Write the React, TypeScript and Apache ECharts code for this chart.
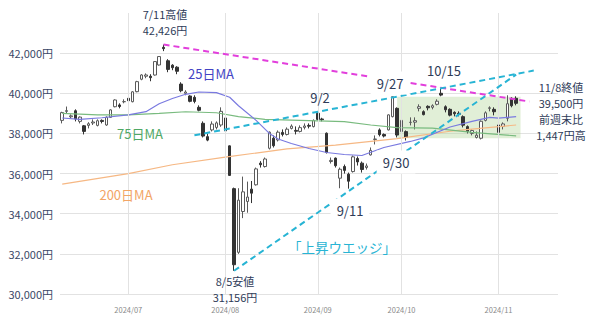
import React, { useEffect, useRef } from 'react';
import * as echarts from 'echarts';

// Trading days (Nikkei 225), June 10 – November 8, 2024
const tradingDays = [
  '2024-06-10','2024-06-11','2024-06-12','2024-06-13','2024-06-14','2024-06-17','2024-06-18','2024-06-19','2024-06-20','2024-06-21','2024-06-24','2024-06-25','2024-06-26','2024-06-27','2024-06-28',
  '2024-07-01','2024-07-02','2024-07-03','2024-07-04','2024-07-05','2024-07-08','2024-07-09','2024-07-10','2024-07-11','2024-07-12','2024-07-16','2024-07-17','2024-07-18','2024-07-19','2024-07-22','2024-07-23','2024-07-24','2024-07-25','2024-07-26','2024-07-29','2024-07-30','2024-07-31',
  '2024-08-01','2024-08-02','2024-08-05','2024-08-06','2024-08-07','2024-08-08','2024-08-09','2024-08-13','2024-08-14','2024-08-15','2024-08-16','2024-08-19','2024-08-20','2024-08-21','2024-08-22','2024-08-23','2024-08-26','2024-08-27','2024-08-28','2024-08-29','2024-08-30',
  '2024-09-02','2024-09-03','2024-09-04','2024-09-05','2024-09-06','2024-09-09','2024-09-10','2024-09-11','2024-09-12','2024-09-13','2024-09-17','2024-09-18','2024-09-19','2024-09-20','2024-09-24','2024-09-25','2024-09-26','2024-09-27','2024-09-30',
  '2024-10-01','2024-10-02','2024-10-03','2024-10-04','2024-10-07','2024-10-08','2024-10-09','2024-10-10','2024-10-11','2024-10-15','2024-10-16','2024-10-17','2024-10-18','2024-10-21','2024-10-22','2024-10-23','2024-10-24','2024-10-25','2024-10-28','2024-10-29','2024-10-30','2024-10-31',
  '2024-11-01','2024-11-05','2024-11-06','2024-11-07','2024-11-08'
];
// Empty future days that extend the axis to the right
const futureDays = ['2024-11-11','2024-11-12','2024-11-13','2024-11-14','2024-11-15','2024-11-18','2024-11-19','2024-11-20','2024-11-21'];

const opens = [
  38650,39100,38830,39130,38600,38380,38400,38520,38400,38650,38420,38800,39330,39420,39580,
  39750,39580,40080,40700,40850,40850,40910,41410,42290,41620,41400,41300,40460,40000,39865,39800,39300,38505,37840,38175,38300,38420,
  38770,37380,35249,32077,34110,34610,35225,35440,36520,36350,37260,37760,37675,38050,37950,38250,38150,38100,38300,38400,38340,
  39005,38720,38010,36600,36770,35770,36350,35970,36100,36750,36520,36300,36930,37700,38175,37950,38175,38835,39250,
  38090,38090,38550,38560,39250,39085,39350,39300,39450,40000,39330,39200,39050,39000,38835,38340,38000,37800,37760,38650,39250,39200,
  38420,38350,38755,39750,39750
];
const closes = [
  39038,39134,38876,38720,38814,38102,38482,38570,38633,38596,38804,39173,39667,39341,39583,
  39631,40074,40580,40913,40912,40780,41580,41831,42224,41190,41275,41097,40126,40063,39599,39594,39154,37869,37667,38468,38525,39101,
  38126,35909,31458,34675,35089,34831,35025,36232,36442,36726,38062,37388,38062,37951,38211,38364,38110,38288,38371,38362,38647,
  38700,38686,37047,36657,36391,36215,36159,35619,36833,36581,36203,36380,37155,37723,37940,37870,38925,39829,37919,
  38651,37808,38552,38635,39332,38937,39277,39380,39605,39910,39180,38911,38981,38954,38411,38104,38143,37913,38605,39027,39277,39081,
  38053,38474,39480,39381,39500
];
const lows = [
  38500,38980,38750,38600,38500,37950,38250,38420,38350,38500,38380,38780,39300,39250,39500,
  39450,39550,40050,40650,40750,40600,40880,41380,42100,41050,41150,40950,40050,39900,39550,39500,39100,37800,37611,38100,38200,38330,
  37760,35880,31156,32000,33780,34050,34530,35400,36300,36300,37200,37300,37600,37850,37900,38200,37950,38050,38200,38250,38300,
  38650,38600,37000,36500,36300,35270,36000,35247,36050,36400,36050,36200,36900,37450,37850,37800,38150,38800,37800,
  37950,37650,38400,38200,39100,38900,39150,39200,39400,39850,39050,38850,38850,38850,38300,38000,37900,37750,37700,38600,39100,38900,
  37900,38200,38600,39300,39400
];
const highs = [
  39080,39340,38950,39200,38850,38420,38560,38700,38700,38700,38850,39200,39700,39500,39700,
  39800,40100,40620,40950,40990,40950,41600,41850,42426,41700,41450,41350,40550,40150,39900,39900,39400,38600,37990,38600,38600,39300,
  38900,37400,35301,35270,35849,35600,35630,36300,36620,36800,38100,37900,38150,38200,38300,38450,38350,38400,38500,38500,38700,
  39070,38780,38050,36800,36800,36300,36450,36050,36900,36850,36600,36500,37300,37900,38250,38000,38950,39830,39300,
  38700,38150,38800,38800,39450,39150,39400,39450,39700,40257,39400,39250,39100,39100,38900,38400,38200,38100,38650,39100,39350,39300,
  38500,38550,39900,39800,39850
];

// Moving averages at these dates
const ma25Dates = ['2024-06-10','2024-06-14','2024-06-21','2024-07-01','2024-07-05','2024-07-10','2024-07-16','2024-07-19','2024-07-24','2024-07-30','2024-08-02','2024-08-06','2024-08-13','2024-08-16','2024-08-20','2024-08-23','2024-08-29','2024-09-04','2024-09-10','2024-09-17','2024-09-25','2024-10-03','2024-10-08','2024-10-17','2024-10-24','2024-10-30','2024-11-01','2024-11-08'];
const ma25Values = [38770,38700,38780,38920,39085,39480,39740,39950,40065,40030,39800,39380,38650,38000,37720,37500,37250,37050,36950,36900,37300,37600,37780,38320,38600,38800,38760,38840];

const ma75Dates = ['2024-06-10','2024-06-20','2024-07-01','2024-07-10','2024-07-19','2024-07-30','2024-08-06','2024-08-15','2024-08-29','2024-09-10','2024-09-19','2024-09-30','2024-10-10','2024-10-24','2024-11-08'];
const ma75Values = [39000,38920,38920,39000,39080,39030,38840,38700,38640,38590,38420,38290,38260,38050,37876];

const ma200Dates = ['2024-06-10','2024-07-01','2024-07-16','2024-08-01','2024-08-22','2024-09-06','2024-09-30','2024-10-17','2024-11-08'];
const ma200Values = [35470,36000,36440,36820,37230,37420,37740,38110,38420];

// Trend lines: [startDate, startPrice, endDate, endPrice]
const resistanceLine: [string, number, string, number] = ['2024-07-11', 42426, '2024-11-13', 39590];
const wedgeUpper: [string, number, string, number] = ['2024-07-23', 37905, '2024-11-14', 41130];
const wedgeLower: [string, number, string, number] = ['2024-08-05', 31156, '2024-11-08', 40930];

// Range box (green)
const rangeBox: [string, number, string, number] = ['2024-09-30', 39829, '2024-11-11', 37760];

const yMin = 30000;
const yMax = 44000;
const yStep = 2000;

const FONT = '"Noto Sans CJK JP", "Noto Sans", sans-serif';
const NAVY = '#2e3b58';
const CYAN = '#27b4d4';
const PINK = '#e23fdc';

export default function App() {
  const ref = useRef<HTMLDivElement>(null);

  useEffect(() => {
    if (!ref.current) return;
    const chart = echarts.init(ref.current, null, { renderer: 'svg' });

    const categories = [...tradingDays, ...futureDays];
    const monthStarts = new Set<string>();
    categories.forEach((d, i) => {
      if (i > 0 && d.slice(0, 7) !== categories[i - 1].slice(0, 7)) monthStarts.add(d);
    });
    const candleData = tradingDays.map((_, i) => [opens[i], closes[i], lows[i], highs[i]]);
    const pairs = (ds: string[], vs: number[]) => ds.map((d, i) => [d, vs[i]]);
    const seg = (l: [string, number, string, number], color: string) => [
      { coord: [l[0], l[1]], lineStyle: { color, type: [6, 4], width: 2 } },
      { coord: [l[2], l[3]] },
    ];

    const txt = (text: string, x: number, y: number, fill: string, size = 13, extra: any = {}) => ({
      type: 'text',
      z: 100,
      style: {
        text, x, y, fill,
        font: `${size}px ${FONT}`,
        align: 'center', verticalAlign: 'middle',
        ...extra,
      },
    });
    const lines = (ls: string[], x: number, y0: number, step: number, fill: string) =>
      ls.map((t, i) => txt(t, x, y0 + i * step, fill, 11));
    const bg = { backgroundColor: '#ffffff', padding: [5, 6] };

    chart.setOption({
      animation: false,
      backgroundColor: '#ffffff',
      grid: { left: 60, right: 42, top: 13, bottom: 21, containLabel: false },
      xAxis: {
        type: 'category',
        data: categories,
        boundaryGap: true,
        axisLine: { show: false },
        axisTick: { show: false },
        splitLine: { show: false },
        axisLabel: {
          interval: (_i: number, v: string) => monthStarts.has(v),
          formatter: (v: string) => v.slice(0, 7).replace('-', '/'),
          fontSize: 7.5,
          color: '#8a8a8a',
          fontFamily: FONT,
          margin: 12,
          hideOverlap: false,
        },
      },
      yAxis: {
        type: 'value',
        min: yMin,
        max: yMax,
        interval: yStep,
        axisLine: { show: false },
        axisTick: { show: false },
        splitLine: { show: true, showMaxLine: false, lineStyle: { color: '#e2e2e2', width: 1 } },
        axisLabel: {
          showMaxLabel: false,
          formatter: (v: number) => v.toLocaleString('en-US') + '円',
          fontSize: 11,
          color: '#3a4766',
          fontFamily: FONT,
          margin: 7,
        },
      },
      series: [
        {
          name: 'frame',
          type: 'line',
          data: [],
          z: 1,
          silent: true,
          markLine: {
            silent: true,
            symbol: 'none',
            label: { show: false },
            lineStyle: { color: '#e2e2e2', type: 'solid', width: 1 },
            data: [...monthStarts].map((d) => ({ xAxis: d })),
          },
          markArea: {
            silent: true,
            itemStyle: { color: 'rgba(176, 212, 150, 0.38)' },
            data: [[{ coord: [rangeBox[0], rangeBox[1]] }, { coord: [rangeBox[2], rangeBox[3]] }]],
          },
        },
        {
          name: 'candles',
          type: 'candlestick',
          data: candleData,
          barWidth: 3,
          z: 3,
          itemStyle: {
            color: '#ffffff',
            color0: '#333333',
            borderColor: '#5a5a5a',
            borderColor0: '#333333',
            borderWidth: 1,
          },
        },
        {
          name: '200日MA', type: 'line', data: pairs(ma200Dates, ma200Values), showSymbol: false, symbol: 'none',
          lineStyle: { color: '#f6b884', width: 1.2 }, z: 4, silent: true,
        },
        {
          name: '75日MA', type: 'line', data: pairs(ma75Dates, ma75Values), showSymbol: false, symbol: 'none',
          lineStyle: { color: '#79bb7f', width: 1.2 }, z: 4, silent: true,
        },
        {
          name: '25日MA', type: 'line', data: pairs(ma25Dates, ma25Values), showSymbol: false, symbol: 'none',
          lineStyle: { color: '#7a7ae0', width: 1.2 }, z: 4, silent: true,
          markLine: {
            silent: true,
            symbol: 'none',
            label: { show: false },
            data: [seg(resistanceLine, PINK), seg(wedgeUpper, CYAN), seg(wedgeLower, CYAN)],
          },
        },
      ],
      graphic: [
        ...lines(['7/11高値', '42,426円'], 165, 14, 16, NAVY),
        txt('25日MA', 211, 73, '#4343c4'),
        txt('75日MA', 140, 133, '#4fa865'),
        txt('200日MA', 126, 194, '#f2a566'),
        txt('9/2', 320, 97, NAVY),
        txt('9/27', 390, 83, NAVY, 13, bg),
        txt('10/15', 444, 70, NAVY),
        txt('9/30', 396, 162, NAVY, 13, bg),
        txt('9/11', 350, 210, NAVY, 13, { backgroundColor: '#ffffff', padding: [7, 6, 3, 6] }),
        txt('「上昇ウエッジ」', 342, 247, CYAN, 13.5),
        ...lines(['8/5安値', '31,156円'], 235, 281, 16, NAVY),
        ...lines(['11/8終値', '39,500円', '前週末比', '1,447円高'], 561, 87, 16, NAVY),
      ],
    });

    return () => chart.dispose();
  }, []);

  return <div ref={ref} style={{ position: 'absolute', left: 0, top: 0, width: 600, height: 315 }} />;
}
